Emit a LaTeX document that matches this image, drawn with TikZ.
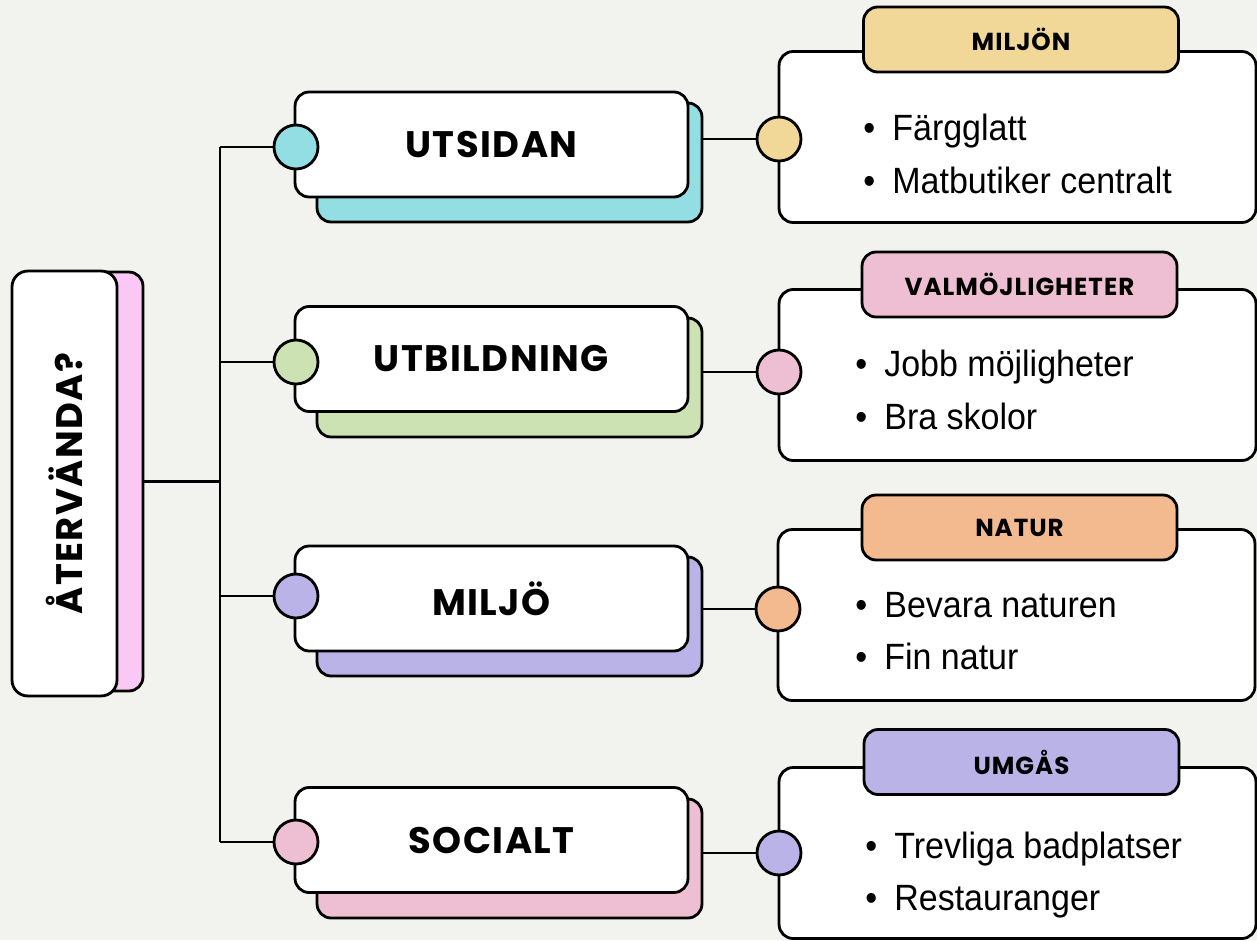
\documentclass[tikz,border=0pt]{standalone}
\usepackage{fontspec}
\usetikzlibrary{positioning}
\setmainfont{Liberation Sans}
\newfontfamily\cuerpo{Liberation Sans}[FakeStretch=0.93]
\newfontfamily\mano{Poppins}[LetterSpace=4]
\definecolor{fondo}{HTML}{F2F2EE}
\definecolor{turquesa}{HTML}{93DEE2}
\definecolor{verde}{HTML}{CCE2B3}
\definecolor{lila}{HTML}{B9B3E8}
\definecolor{rosa}{HTML}{EEBFD3}
\definecolor{rosaFuerte}{HTML}{FAC8F5}
\definecolor{amarillo}{HTML}{F1D898}
\definecolor{naranja}{HTML}{F3B98F}
\newcommand{\punto}{\makebox[0.58cm][l]{\textbullet}}

\begin{document}
\begin{tikzpicture}[x=0.02cm, y=-0.02cm,
    linea/.style={line width=1.5pt},
    caja/.style={draw, line width=1.6pt, fill=white, rounded corners=8pt, minimum width=7.86cm, minimum height=2.1cm, font=\mano\bfseries\fontsize{21}{24}\selectfont},
    sombra/.style={draw, line width=1.6pt, rounded corners=8pt, minimum width=7.7cm, minimum height=2.38cm},
    bola/.style={circle, draw, line width=1.6pt, minimum size=0.88cm, inner sep=0pt},
    detalle/.style={draw, line width=1.6pt, fill=white, rounded corners=8pt, minimum width=9.54cm, minimum height=3.42cm},
    titulo/.style={draw, line width=1.6pt, rounded corners=8pt, minimum width=6.3cm, minimum height=1.3cm, font=\mano\bfseries\fontsize{14}{16}\selectfont},
    lista/.style={anchor=west, align=left, inner sep=0pt, font=\cuerpo\fontsize{20.8}{30}\selectfont}
  ]
  \useasboundingbox (0,0) rectangle (1257,940);
  \fill[fondo] (0,0) rectangle (1257,940);

  % Nodo raiz
  \node[sombra, fill=rosaFuerte, minimum width=2.1cm, minimum height=8.38cm] (raizS) at (90.5,481.5) {};
  \node[caja, rotate=90, minimum width=8.5cm, minimum height=2.1cm, rounded corners=9pt] (raiz) at (64.5,483.5) {ÅTERVÄNDA?};
  \coordinate (tronco) at (220,483.5);

  % Ramas
  \node[sombra, fill=turquesa] (s1) at (509.5,162.5) {};
  \node[caja] (c1) at (491.5,144.5) {UTSIDAN};
  \node[bola, fill=turquesa] (b1) at (296,147) {};

  \node[sombra, fill=verde] (s2) at (509.5,377.5) {};
  \node[caja] (c2) at (491.5,359) {UTBILDNING};
  \node[bola, fill=verde] (b2) at (296,362) {};

  \node[sombra, fill=lila] (s3) at (509.5,616.5) {};
  \node[caja] (c3) at (491.5,598.5) {MILJÖ};
  \node[bola, fill=lila] (b3) at (296,596) {};

  \node[sombra, fill=rosa] (s4) at (509.5,858.5) {};
  \node[caja] (c4) at (491.5,840) {SOCIALT};
  \node[bola, fill=rosa] (b4) at (296,842) {};

  % Tronco
  \draw[linea] (raizS.east) -- (raizS.east -| tronco);
  \draw[linea] (b1.west -| tronco) -- (b4.west -| tronco);
  \draw[linea] (b1.west -| tronco) -- (b1.west);
  \draw[linea] (b2.west -| tronco) -- (b2.west);
  \draw[linea] (b3.west -| tronco) -- (b3.west);
  \draw[linea] (b4.west -| tronco) -- (b4.west);

  % Detalles
  \node[detalle] (d1) at (1017.5,137) {};
  \node[titulo, fill=amarillo] (t1) at (1021,39.5) {MILJÖN};
  \node[bola, fill=amarillo] (e1) at (779,139) {};
  \node[lista] (l1) at (863,154) {\punto Färgglatt\\ \punto Matbutiker centralt};

  \node[detalle] (d2) at (1017.5,375) {};
  \node[titulo, fill=rosa] (t2) at (1019.5,284.5) {VALMÖJLIGHETER};
  \node[bola, fill=rosa] (e2) at (779,372) {};
  \node[lista] (l2) at (855,390) {\punto Jobb möjligheter\\ \punto Bra skolor};

  \node[detalle] (d3) at (1016.5,615) {};
  \node[titulo, fill=naranja] (t3) at (1019.5,527.5) {NATUR};
  \node[bola, fill=naranja] (e3) at (778,609) {};
  \node[lista] (l3) at (855,631) {\punto Bevara naturen\\ \punto Fin natur};

  \node[detalle] (d4) at (1017.5,853) {};
  \node[titulo, fill=lila] (t4) at (1021.5,762) {UMGÅS};
  \node[bola, fill=lila] (e4) at (779,853) {};
  \node[lista] (l4) at (865,875) {\punto Trevliga badplatser\\ \punto Restauranger};

  \draw[linea] (s1.east |- e1) -- (e1.west);
  \draw[linea] (s2.east |- e2) -- (e2.west);
  \draw[linea] (s3.east |- e3) -- (e3.west);
  \draw[linea] (s4.east |- e4) -- (e4.west);
\end{tikzpicture}
\end{document}
